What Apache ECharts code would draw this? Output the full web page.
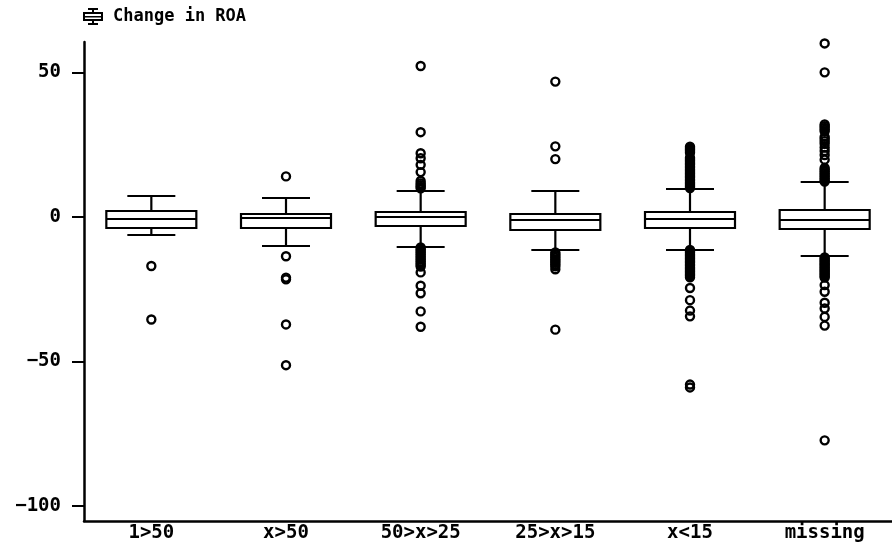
<!DOCTYPE html>
<html>
<head>
<meta charset="utf-8">
<script src="https://cdn.jsdelivr.net/npm/echarts@6/dist/echarts.min.js"></script>
<style>html,body{margin:0;padding:0;background:#fff}#c{width:892px;height:543px}</style>
</head>
<body>
<div id="c"></div>
<script>
const categories = ['1>50', 'x>50', '50>x>25', '25>x>15', 'x<15', 'missing'];
const yTicks = [-100, -50, 0, 50];
const seriesName = 'Change in ROA';
// [low whisker, Q1, median, Q3, high whisker]
const box1 = [-6.4, -3.7, -0.9, 1.9, 7.1];
const box2 = [-9.9, -3.8, -0.3, 1.0, 6.7];
const box3 = [-10.4, -3.2, -0.1, 1.7, 8.8];
const box4 = [-11.6, -4.4, -1.2, 1.1, 8.8];
const box5 = [-11.3, -3.8, -0.7, 1.7, 9.8];
const box6 = [-13.6, -4.1, -1.0, 2.5, 11.9];
const out1 = [-17, -35.5];
const out2 = [14, -13.6, -21, -21.6, -37.2, -51.3];
const out3 = [52.2, 29.3, 22, 20.3, 18, 15.5, 12.4, 11.6, 11, 10.4, 9.9, -10.6, -11.2, -11.8, -12.4, -13, -13.6, -14.2, -14.8, -15.4, -16, -16.6, -17.2, -19.2, -23.8, -26.4, -32.7, -38];
const out4 = [46.8, 24.4, 20, -12.3, -12.9, -13.5, -14.1, -14.7, -15.3, -15.9, -16.5, -17.1, -18.1, -39];
const out5 = [24.3, 23.8, 23.3, 22.8, 22.2, 20.5, 20, 19.5, 19, 18.5, 18, 17.5, 17, 16.5, 16, 15.5, 15, 14.5, 14, 13.5, 13, 12.5, 12, 11.5, 11, 10.5, 10, -11.4, -11.9, -12.4, -12.9, -13.4, -13.9, -14.4, -14.9, -15.4, -15.9, -16.4, -16.9, -17.4, -17.9, -18.4, -18.9, -19.4, -19.9, -20.4, -20.9, -24.6, -28.8, -32.4, -34.4, -58, -59];
const out6 = [60, 50, 32, 31.4, 30.8, 30.2, 29.6, 27.7, 27, 26.2, 25.3, 24, 22.8, 21.4, 19.8, 16.9, 16.3, 15.7, 15.1, 14.5, 13.9, 13.3, 12.7, 12.2, -14, -14.5, -15, -15.5, -16, -16.5, -17, -17.5, -18, -18.5, -19, -19.5, -20, -20.5, -21, -23.6, -25.9, -29.7, -31.7, -34.6, -37.6, -77.3];

const boxes = [box1, box2, box3, box4, box5, box6];
const outliers = [out1, out2, out3, out4, out5, out6];
const boxData = boxes.map((b, i) => [i].concat(b));
const outlierData = outliers.flatMap((list, i) => list.map(v => [i, v]));

const font = '"DejaVu Sans Mono", monospace';
const lineStyle = { stroke: '#000', lineWidth: 2.2, fill: null };

function renderBox(params, api) {
  const i = api.value(0);
  const cx = api.coord([i, 0])[0];
  const y = k => Math.round(api.coord([i, api.value(k)])[1]);
  const lo = y(1), q1 = y(2), med = y(3), q3 = y(4), hi = y(5);
  const bw = 45, cw = 24;
  const line = (x1, y1, x2, y2) => ({ type: 'line', shape: { x1, y1, x2, y2 }, style: lineStyle });
  return {
    type: 'group',
    children: [
      { type: 'rect', shape: { x: cx - bw, y: q3, width: 2 * bw, height: q1 - q3 }, style: lineStyle },
      line(cx - bw, med, cx + bw, med),
      line(cx, q3, cx, hi),
      line(cx, q1, cx, lo),
      line(cx - cw, hi, cx + cw, hi),
      line(cx - cw, lo, cx + cw, lo)
    ]
  };
}

const chart = echarts.init(document.getElementById('c'), null, { renderer: 'canvas' });
chart.setOption({
  animation: false,
  backgroundColor: '#fff',
  legend: {
    left: 83, top: 8, padding: 0, itemWidth: 20, itemHeight: 17, itemGap: 0,
    selectedMode: false,
    data: [{
      name: seriesName,
      icon: 'path://M5 0H15V2H11V4H20V13H11V15H15V17H5V15H9V13H0V4H9V2H5ZM2 6V8H18V6ZM2 9.5V11H18V9.5Z',
      itemStyle: { color: '#000', borderWidth: 0 }
    }],
    textStyle: { fontFamily: font, fontSize: 17, fontWeight: 'bold', color: '#000', padding: [0, 0, 2, 5] }
  },
  grid: { left: 84, top: 42, width: 810, height: 480 },
  xAxis: {
    type: 'category', data: categories,
    axisLine: { onZero: false, lineStyle: { color: '#000', width: 2.5 } },
    axisTick: { show: false },
    axisLabel: { fontFamily: font, fontSize: 19, fontWeight: 'bold', color: '#000', margin: 3, interval: 0 },
    splitLine: { show: false }
  },
  yAxis: {
    type: 'value', min: -105.2, max: 60.5,
    axisLine: { show: true, lineStyle: { color: '#000', width: 2.5 } },
    axisTick: { show: true, length: 12, customValues: yTicks, lineStyle: { color: '#000', width: 2 } },
    axisLabel: { customValues: yTicks, fontFamily: font, fontSize: 19, fontWeight: 'bold', color: '#000', margin: 23,
      formatter: v => String(v).replace('-', '\u2212') },
    splitLine: { show: false }
  },
  series: [
    {
      name: seriesName, type: 'custom', data: boxData, renderItem: renderBox,
      encode: { x: 0, y: [1, 2, 3, 4, 5] }, clip: false, silent: true
    },
    {
      name: 'outliers', type: 'scatter', data: outlierData, symbol: 'circle', symbolSize: 8,
      itemStyle: { color: 'rgba(0,0,0,0)', borderColor: '#000', borderWidth: 2.4, opacity: 1 }, silent: true
    }
  ]
});
</script>
</body>
</html>
